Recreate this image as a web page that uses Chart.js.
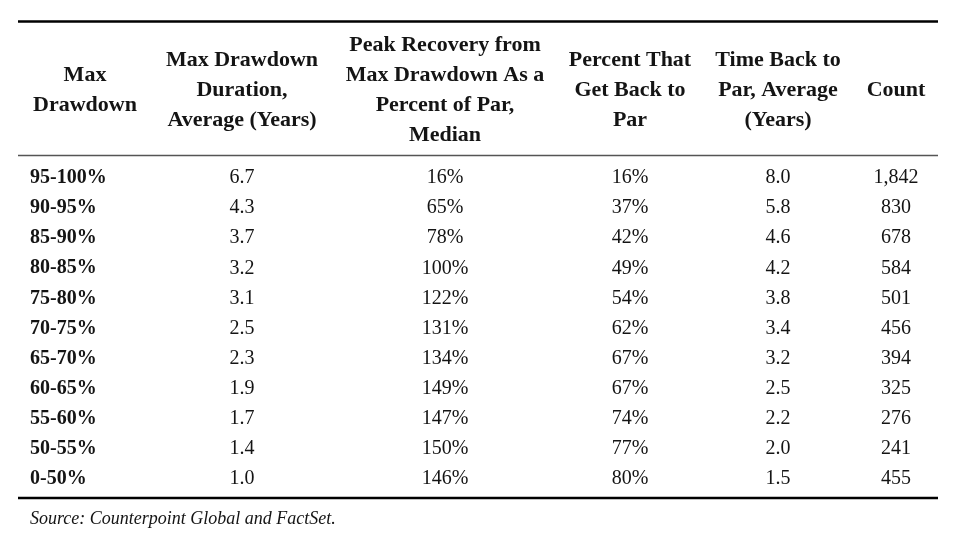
<!DOCTYPE html>
<html>
<head>
<meta charset="utf-8">
<script src="https://cdn.jsdelivr.net/npm/chart.js@4"></script>
<style>
  html, body { margin: 0; padding: 0; background: #fff; }
  #wrap { width: 964px; height: 536px; }
</style>
</head>
<body>
<div id="wrap"><canvas id="drawdownTable" width="964" height="536"></canvas></div>
<script>
// Table data
const drawdownBuckets = ['95-100%', '90-95%', '85-90%', '80-85%', '75-80%', '70-75%',
                         '65-70%', '60-65%', '55-60%', '50-55%', '0-50%'];
const durationYears = [6.7, 4.3, 3.7, 3.2, 3.1, 2.5, 2.3, 1.9, 1.7, 1.4, 1.0];
const peakRecovery = [16, 65, 78, 100, 122, 131, 134, 149, 147, 150, 146];
const pctBackToPar = [16, 37, 42, 49, 54, 62, 67, 67, 74, 77, 80];
const timeBackToPar = [8.0, 5.8, 4.6, 4.2, 3.8, 3.4, 3.2, 2.5, 2.2, 2.0, 1.5];
const counts = [1842, 830, 678, 584, 501, 456, 394, 325, 276, 241, 455];

const headerLines = [
    ['Max', 'Drawdown'],
    ['Max Drawdown', 'Duration,', 'Average (Years)'],
    ['Peak Recovery from', 'Max Drawdown As a', 'Percent of Par,', 'Median'],
    ['Percent That', 'Get Back to', 'Par'],
    ['Time Back to', 'Par, Average', '(Years)'],
    ['Count']
];
const sourceNote = 'Source: Counterpoint Global and FactSet.';

// Layout (table units along the x scale, 0..920)
const tableWidth = 920;
const colCenters = [67, 224, 427, 612, 760, 878];
const rowLabelLeft = 12;

const FONT = "'Liberation Serif', 'Times New Roman', serif";
const INK = '#141414';

const fmt1 = v => v.toFixed(1);
const fmtPct = v => v + '%';
const fmtCount = v => v.toLocaleString('en-US');

const columns = [
    { values: drawdownBuckets, x: rowLabelLeft, fmt: v => v, align: 'left', bold: true },
    { values: durationYears, x: colCenters[1], fmt: fmt1 },
    { values: peakRecovery, x: colCenters[2], fmt: fmtPct },
    { values: pctBackToPar, x: colCenters[3], fmt: fmtPct },
    { values: timeBackToPar, x: colCenters[4], fmt: fmt1 },
    { values: counts, x: colCenters[5], fmt: fmtCount }
];

// Draw cell text, headers and rules
const tablePlugin = {
    id: 'tableText',
    afterDatasetsDraw(chart) {
        const ctx = chart.ctx;
        const xs = chart.scales.x;
        const area = chart.chartArea;
        ctx.save();
        ctx.fillStyle = INK;
        ctx.textBaseline = 'middle';

        // body cells
        chart.data.datasets.forEach((ds, i) => {
            const col = columns[i];
            const meta = chart.getDatasetMeta(i);
            ctx.font = (col.bold ? 'bold ' : '') + '20px ' + FONT;
            ctx.textAlign = col.align || 'center';
            meta.data.forEach((pt, j) => {
                ctx.fillText(col.fmt(col.values[j]), pt.x, pt.y + 1);
            });
        });

        // headers
        ctx.font = 'bold 22px ' + FONT;
        ctx.textAlign = 'center';
        const headMid = 90, lineH = 30;
        headerLines.forEach((lines, i) => {
            const x = xs.getPixelForValue(colCenters[i]);
            const y0 = headMid - (lines.length - 1) * lineH / 2;
            lines.forEach((t, k) => ctx.fillText(t, x, y0 + k * lineH));
        });

        // rules
        const rule = (y, w, c) => {
            ctx.beginPath();
            ctx.strokeStyle = c;
            ctx.lineWidth = w;
            ctx.moveTo(area.left, y);
            ctx.lineTo(area.right, y);
            ctx.stroke();
        };
        rule(21.5, 2.5, '#000');
        rule(area.top - 6.5, 1.5, '#555');
        rule(area.bottom + 5, 2.5, '#000');

        // source
        ctx.font = 'italic 18px ' + FONT;
        ctx.textAlign = 'left';
        ctx.fillText(sourceNote, xs.getPixelForValue(rowLabelLeft), 519);
        ctx.restore();
    }
};

new Chart(document.getElementById('drawdownTable'), {
    type: 'line',
    data: {
        labels: drawdownBuckets,
        datasets: columns.map(col => ({
            data: drawdownBuckets.map(b => ({ x: col.x, y: b })),
            showLine: false,
            pointRadius: 0,
            pointHoverRadius: 0
        }))
    },
    options: {
        responsive: false,
        animation: false,
        events: [],
        layout: { padding: { left: 18, right: 26, top: 162, bottom: 43 } },
        plugins: {
            legend: { display: false },
            tooltip: { enabled: false }
        },
        scales: {
            x: { type: 'linear', min: 0, max: tableWidth, display: false },
            y: { type: 'category', labels: drawdownBuckets, offset: true, display: false }
        }
    },
    plugins: [tablePlugin]
});
</script>
</body>
</html>
